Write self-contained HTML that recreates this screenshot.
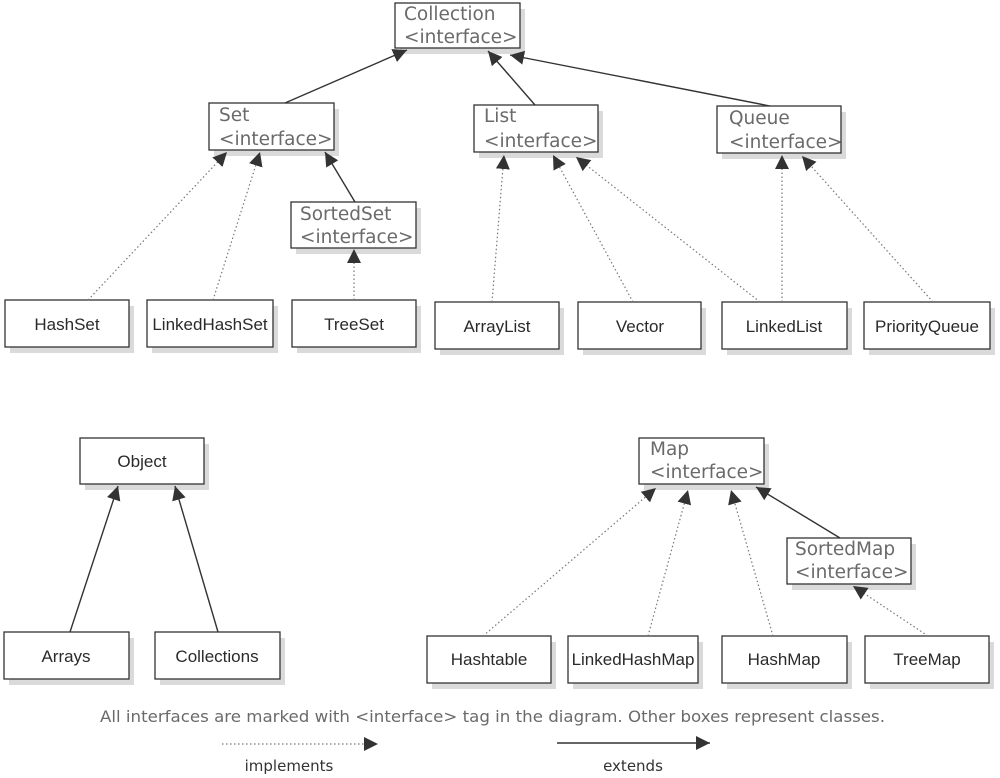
<!DOCTYPE html>
<html><head><meta charset="utf-8"><style>
html,body{margin:0;padding:0;background:#fff}
svg{display:block}
.i{font-family:"DejaVu Sans","Liberation Sans",sans-serif;font-size:18.5px;fill:#6a6a6a}
.c{font-family:"Liberation Sans",sans-serif;font-size:17px;fill:#2a2a2a;text-anchor:middle}
.b{fill:#fff;stroke:#333;stroke-width:1.3}
.s{fill:#dadada}
.e{stroke:#333;stroke-width:1.4;fill:none}
.d{stroke:#777;stroke-width:1.2;stroke-dasharray:1.5 2.5;fill:none}
</style></head><body>
<svg width="1000" height="778" viewBox="0 0 1000 778" xmlns="http://www.w3.org/2000/svg">
<defs>
<marker id="a" viewBox="0 0 10 10" refX="10" refY="5" markerWidth="14" markerHeight="14" markerUnits="userSpaceOnUse" orient="auto"><path d="M0,0 L10,5 L0,10 z" fill="#333"/></marker>
</defs>
<g id="boxes">
<rect class="s" x="400" y="9" width="125" height="45"/><rect class="b" x="395" y="3" width="125" height="45"/>
<text class="i" x="404" y="20">Collection</text><text class="i" x="404" y="43">&lt;interface&gt;</text>

<rect class="s" x="214" y="109" width="125" height="47"/><rect class="b" x="209" y="103" width="125" height="47"/>
<text class="i" x="219" y="121">Set</text><text class="i" x="219" y="145">&lt;interface&gt;</text>

<rect class="s" x="479" y="111" width="124" height="47"/><rect class="b" x="474" y="105" width="124" height="47"/>
<text class="i" x="484" y="122">List</text><text class="i" x="484" y="147">&lt;interface&gt;</text>

<rect class="s" x="722" y="112" width="124" height="47"/><rect class="b" x="717" y="106" width="124" height="47"/>
<text class="i" x="729" y="124">Queue</text><text class="i" x="729" y="148">&lt;interface&gt;</text>

<rect class="s" x="296" y="208" width="125" height="46"/><rect class="b" x="291" y="202" width="125" height="46"/>
<text class="i" x="300" y="220">SortedSet</text><text class="i" x="300" y="243">&lt;interface&gt;</text>

<rect class="s" x="644" y="444" width="125" height="46"/><rect class="b" x="639" y="438" width="125" height="46"/>
<text class="i" x="650" y="455">Map</text><text class="i" x="650" y="478">&lt;interface&gt;</text>

<rect class="s" x="792" y="544" width="124" height="46"/><rect class="b" x="787" y="538" width="124" height="46"/>
<text class="i" x="795" y="555">SortedMap</text><text class="i" x="795" y="578">&lt;interface&gt;</text>

<rect class="s" x="10" y="306" width="124" height="47"/><rect class="b" x="5" y="300" width="124" height="47"/><text class="c" x="67" y="330">HashSet</text>
<rect class="s" x="152" y="306" width="126" height="47"/><rect class="b" x="147" y="300" width="126" height="47"/><text class="c" x="210" y="330">LinkedHashSet</text>
<rect class="s" x="297" y="306" width="124" height="47"/><rect class="b" x="292" y="300" width="124" height="47"/><text class="c" x="354" y="330">TreeSet</text>
<rect class="s" x="440" y="308" width="124" height="47"/><rect class="b" x="435" y="302" width="124" height="47"/><text class="c" x="497" y="332">ArrayList</text>
<rect class="s" x="583" y="308" width="123" height="47"/><rect class="b" x="578" y="302" width="123" height="47"/><text class="c" x="640" y="332">Vector</text>
<rect class="s" x="727" y="308" width="125" height="47"/><rect class="b" x="722" y="302" width="125" height="47"/><text class="c" x="784" y="332">LinkedList</text>
<rect class="s" x="869" y="308" width="126" height="47"/><rect class="b" x="864" y="302" width="126" height="47"/><text class="c" x="927" y="332">PriorityQueue</text>

<rect class="s" x="85" y="444" width="124" height="46"/><rect class="b" x="80" y="438" width="124" height="46"/><text class="c" x="142" y="467">Object</text>

<rect class="s" x="9" y="638" width="125" height="47"/><rect class="b" x="4" y="632" width="125" height="47"/><text class="c" x="66" y="662">Arrays</text>
<rect class="s" x="160" y="638" width="125" height="47"/><rect class="b" x="155" y="632" width="125" height="47"/><text class="c" x="217" y="662">Collections</text>
<rect class="s" x="432" y="642" width="124" height="47"/><rect class="b" x="427" y="636" width="124" height="47"/><text class="c" x="489" y="665">Hashtable</text>
<rect class="s" x="573" y="642" width="130" height="47"/><rect class="b" x="568" y="636" width="130" height="47"/><text class="c" x="633" y="665">LinkedHashMap</text>
<rect class="s" x="727" y="642" width="125" height="47"/><rect class="b" x="722" y="636" width="125" height="47"/><text class="c" x="784" y="665">HashMap</text>
<rect class="s" x="870" y="642" width="124" height="47"/><rect class="b" x="865" y="636" width="124" height="47"/><text class="c" x="927" y="665">TreeMap</text>
</g>
<line class="e" x1="285" y1="103" x2="407" y2="50" marker-end="url(#a)"/>
<line class="e" x1="535" y1="105" x2="488" y2="51" marker-end="url(#a)"/>
<line class="e" x1="770" y1="106" x2="510" y2="55" marker-end="url(#a)"/>
<line class="e" x1="355" y1="202" x2="325" y2="152" marker-end="url(#a)"/>
<line class="e" x1="70" y1="632" x2="118" y2="486" marker-end="url(#a)"/>
<line class="e" x1="218" y1="632" x2="175" y2="486" marker-end="url(#a)"/>
<line class="e" x1="840" y1="538" x2="756" y2="487" marker-end="url(#a)"/>
<line class="d" x1="88" y1="300" x2="227" y2="152" marker-end="url(#a)"/>
<line class="d" x1="213" y1="300" x2="260" y2="152" marker-end="url(#a)"/>
<line class="d" x1="354" y1="300" x2="354" y2="249" marker-end="url(#a)"/>
<line class="d" x1="492" y1="302" x2="504" y2="155" marker-end="url(#a)"/>
<line class="d" x1="633" y1="302" x2="553" y2="155" marker-end="url(#a)"/>
<line class="d" x1="760" y1="302" x2="576" y2="157" marker-end="url(#a)"/>
<line class="d" x1="782" y1="302" x2="782" y2="155" marker-end="url(#a)"/>
<line class="d" x1="933" y1="302" x2="802" y2="156" marker-end="url(#a)"/>
<line class="d" x1="483" y1="636" x2="656" y2="488" marker-end="url(#a)"/>
<line class="d" x1="648" y1="636" x2="688" y2="490" marker-end="url(#a)"/>
<line class="d" x1="773" y1="636" x2="731" y2="490" marker-end="url(#a)"/>
<line class="d" x1="928" y1="636" x2="853" y2="586" marker-end="url(#a)"/>
<text x="100" y="722" textLength="785" lengthAdjust="spacingAndGlyphs" style="font-family:'DejaVu Sans','Liberation Sans',sans-serif;font-size:16px;fill:#6a6a6a">All interfaces are marked with &lt;interface&gt; tag in the diagram. Other boxes represent classes.</text>
<line class="d" x1="222" y1="744" x2="378" y2="744" marker-end="url(#a)"/>
<line class="e" x1="557" y1="743" x2="710" y2="743" marker-end="url(#a)"/>
<text x="289" y="771" text-anchor="middle" style="font-family:'DejaVu Sans','Liberation Sans',sans-serif;font-size:15px;fill:#333">implements</text>
<text x="633" y="771" text-anchor="middle" style="font-family:'DejaVu Sans','Liberation Sans',sans-serif;font-size:15px;fill:#333">extends</text>
</svg>
</body></html>
